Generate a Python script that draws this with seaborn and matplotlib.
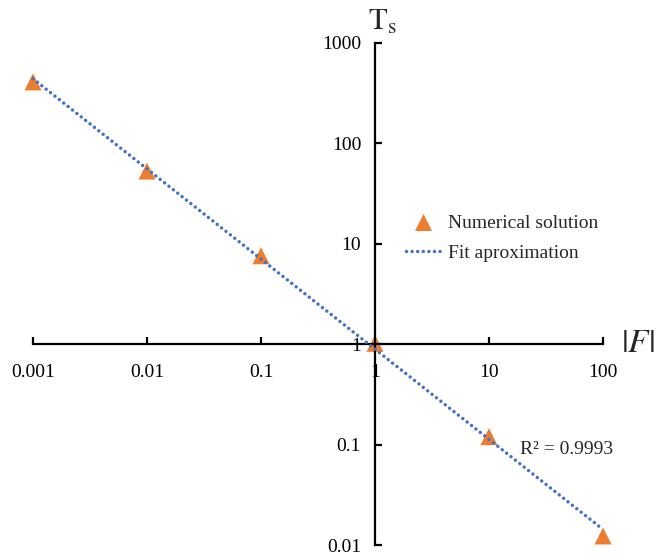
import numpy as np
import pandas as pd
import matplotlib
matplotlib.use("Agg")
import matplotlib.pyplot as plt
import seaborn as sns

# Data
force = [0.001, 0.01, 0.1, 1, 10, 100]
ts_numerical = [410, 53, 7.6, 1.02, 0.12, 0.0123]
r2_text = "R² = 0.9993"
x_ticks = [0.001, 0.01, 0.1, 1, 10, 100]
x_ticklabels = ["0.001", "0.01", "0.1", "1", "10", "100"]
y_ticks = [0.01, 0.1, 1, 10, 100, 1000]
y_ticklabels = ["0.01", "0.1", "1", "10", "100", "1000"]

sns.set_style("white")
plt.rcParams["font.family"] = ["Liberation Serif", "DejaVu Serif"]
plt.rcParams["mathtext.fontset"] = "stix"

# power-law trendline fitted in log space
coef = np.polyfit(np.log10(force), np.log10(ts_numerical), 1)
fit_x = np.array([force[0], force[-1]])
fit_y = 10 ** np.polyval(coef, np.log10(fit_x))

df_pts = pd.DataFrame({"F": force, "Ts": ts_numerical})
df_fit = pd.DataFrame({"F": fit_x, "Ts": fit_y})

fig = plt.figure(figsize=(6.56, 5.58), dpi=100)
ax = fig.add_axes([33 / 656, 13 / 558, 570 / 656, 502 / 558])
ax.set_xscale("log")
ax.set_yscale("log")

orange = "#ED7D31"
blue = "#4472C4"

sns.lineplot(data=df_fit, x="F", y="Ts", ax=ax, color=blue, lw=2.5,
             linestyle=(0, (0.01, 1.6)), dash_capstyle="round",
             label="Fit aproximation", zorder=3, clip_on=False)
sns.scatterplot(data=df_pts, x="F", y="Ts", ax=ax, marker="^", s=150,
                color=orange, edgecolor="none", label="Numerical solution",
                zorder=2, clip_on=False)

ax.set_xlim(0.001, 100)
ax.set_ylim(0.01, 1000)
ax.set_xlabel("")
ax.set_ylabel("")

for s in ["top", "right"]:
    ax.spines[s].set_visible(False)
ax.spines["left"].set_position(("data", 1))
ax.spines["bottom"].set_position(("data", 1))
for s in ["left", "bottom"]:
    ax.spines[s].set_linewidth(1.6)
    ax.spines[s].set_color("black")

ax.set_xticks(x_ticks)
ax.set_xticklabels(x_ticklabels)
ax.set_yticks(y_ticks)
ax.set_yticklabels(y_ticklabels)
ax.minorticks_off()
ax.tick_params(axis="x", direction="in", length=5, width=1.6, labelsize=14,
               pad=14, colors="black", bottom=True)
ax.tick_params(axis="y", direction="in", length=5, width=1.6, labelsize=14,
               pad=10, colors="black", left=True)
ax.tick_params(axis="both", which="minor", length=0)

fig.text(382 / 656, 1 - 22 / 558, r"$\mathrm{T_s}$", fontsize=22,
         ha="center", va="center")
fig.text(638 / 656, 1 - 344 / 558, r"$|F|$", fontsize=24,
         ha="center", va="center")
ax.text(520 / 656, 1 - 449 / 558, r2_text, transform=fig.transFigure,
        fontsize=14, ha="left", va="center")

h, l = ax.get_legend_handles_labels()
order = [l.index("Numerical solution"), l.index("Fit aproximation")]
ax.legend([h[i] for i in order], [l[i] for i in order],
          loc="upper left", bbox_to_anchor=(406 / 656, 1 - 214 / 558),
          bbox_transform=fig.transFigure, frameon=False, fontsize=14,
          handlelength=1.8, handletextpad=0.35, labelspacing=0.65,
          borderpad=0, borderaxespad=0)

fig.savefig("out.png", dpi=100)
